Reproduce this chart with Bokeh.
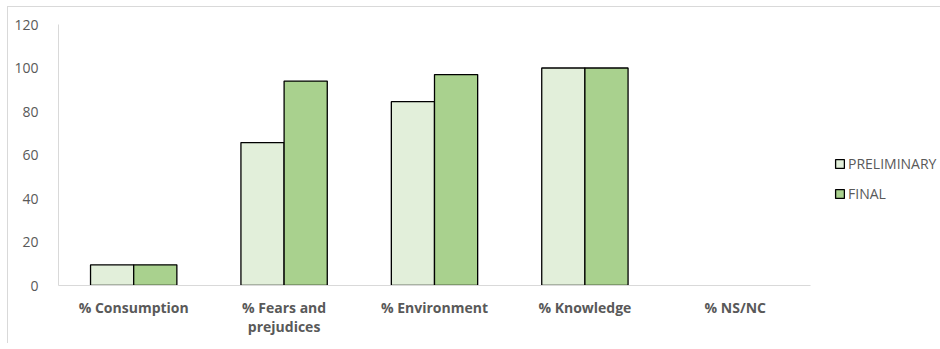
from bokeh.plotting import figure
from bokeh.models import ColumnDataSource, Legend, LegendItem, FixedTicker, Range1d
from bokeh.embed import file_html
from bokeh.resources import INLINE

categories = ["% Consumption", "% Fears and\nprejudices", "% Environment", "% Knowledge", "% NS/NC"]
preliminary = [9.5, 65.7, 84.5, 100, 0]
final = [9.5, 94.0, 97.0, 100, 0]
series_names = ["PRELIMINARY", "FINAL"]
y_ticks = [0, 20, 40, 60, 80, 100, 120]

xs = list(range(1, len(categories) + 1))
bw = 0.287


def source(values, shift):
    keep = [(x, v) for x, v in zip(xs, values) if v > 0]
    return ColumnDataSource(dict(x=[x + shift for x, _ in keep], top=[v for _, v in keep]))


src_p = source(preliminary, -bw / 2)
src_f = source(final, bw / 2)

p = figure(frame_width=752, frame_height=261, output_backend="svg", toolbar_location=None,
           x_range=Range1d(0.5, len(categories) + 0.5), y_range=Range1d(0, 120),
           min_border_left=50, min_border_top=17, min_border_bottom=58, min_border_right=0)
p.margin = (6, 0, 0, 7)
p.styles = {"border-left": "1px solid #d9d9d9", "border-top": "1px solid #d9d9d9"}
p.outline_line_color = None
p.xgrid.visible = False
p.ygrid.visible = False

r1 = p.vbar(x="x", top="top", width=bw, source=src_p, fill_color="#E2EFDA",
            line_color="black", line_width=1.3)
r2 = p.vbar(x="x", top="top", width=bw, source=src_f, fill_color="#A9D18E",
            line_color="black", line_width=1.3)

font = "Open Sans"
p.yaxis.ticker = FixedTicker(ticks=y_ticks)
p.yaxis.axis_line_color = "#d9d9d9"
p.yaxis.major_tick_line_color = None
p.yaxis.minor_tick_line_color = None
p.yaxis.major_label_text_font = font
p.yaxis.major_label_text_font_size = "14px"
p.yaxis.major_label_text_color = "#595959"
p.yaxis.major_label_standoff = 14

p.xaxis.ticker = FixedTicker(ticks=xs)
p.xaxis.major_label_overrides = {x: c for x, c in zip(xs, categories)}
p.xaxis.axis_line_color = "#d9d9d9"
p.xaxis.major_tick_line_color = None
p.xaxis.minor_tick_line_color = None
p.xaxis.major_label_text_font = font
p.xaxis.major_label_text_font_size = "14px"
p.xaxis.major_label_text_font_style = "bold"
p.xaxis.major_label_text_color = "#595959"
p.xaxis.major_label_text_line_height = 1.05
p.xaxis.major_label_standoff = 6

legend = Legend(items=[LegendItem(label=series_names[0], renderers=[r1]),
                       LegendItem(label=series_names[1], renderers=[r2])],
                location=(24, 82), orientation="vertical")
legend.border_line_color = None
legend.background_fill_alpha = 0
legend.label_text_font = font
legend.label_text_font_size = "14px"
legend.label_text_color = "#595959"
legend.glyph_width = 11
legend.glyph_height = 11
legend.spacing = 11
legend.label_standoff = 3
legend.padding = 0
legend.margin = 0
p.add_layout(legend, "right")

open("out.html", "w").write(file_html(p, INLINE))
